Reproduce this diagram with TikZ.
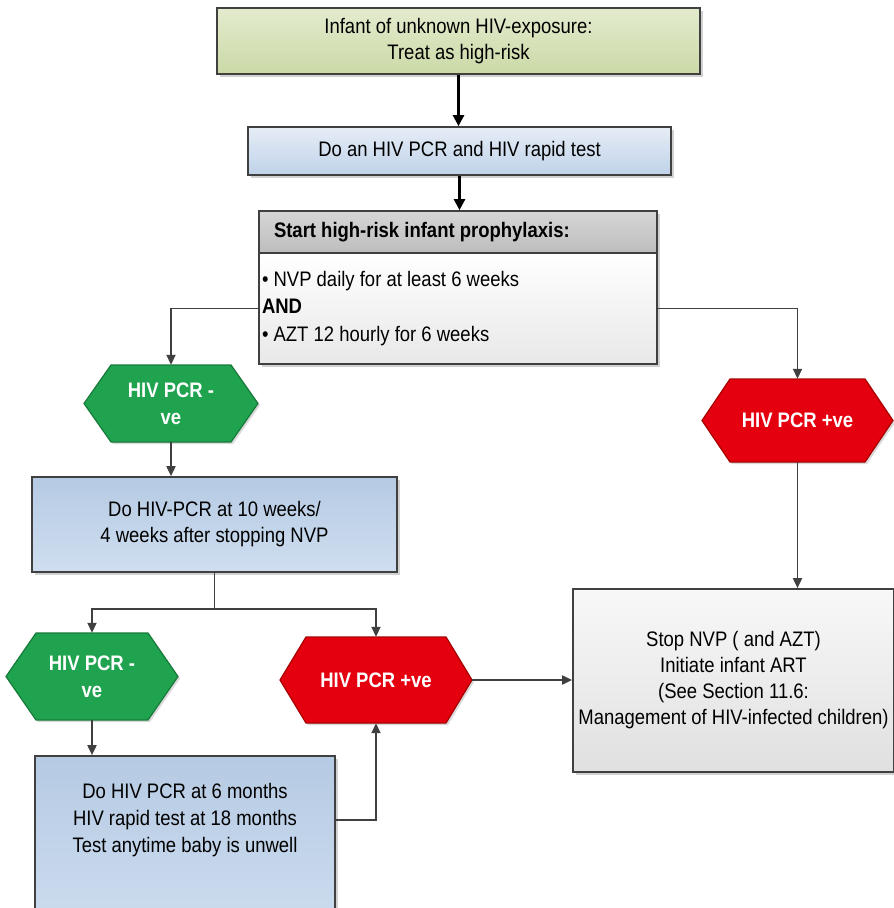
\documentclass[tikz,border=0pt]{standalone}
\usepackage{fontspec}
\setmainfont{Liberation Sans}[FakeStretch=0.88]
\usetikzlibrary{arrows.meta,shadows,calc}
\definecolor{edge}{HTML}{404040}
\definecolor{hexgreen}{HTML}{1FA34F}
\definecolor{hexgreenedge}{HTML}{177A3B}
\definecolor{hexred}{HTML}{E4000F}
\definecolor{hexrededge}{HTML}{A80000}
\definecolor{cA}{HTML}{E3EBCE}\definecolor{cB}{HTML}{CBD9A6}
\definecolor{cC}{HTML}{E6EDF6}\definecolor{cD}{HTML}{BFD2E9}
\definecolor{cE}{HTML}{B5CAE3}\definecolor{cF}{HTML}{CFDEF0}
\definecolor{cG}{HTML}{D6D6D6}\definecolor{cH}{HTML}{BDBDBD}
\definecolor{cI}{HTML}{E8E8E8}
\definecolor{cJ}{HTML}{F8F8F8}\definecolor{cK}{HTML}{E0E0E0}
\tikzset{
  txt/.style={font=\fontsize{21}{26}\selectfont, align=center, text=black},
  basebox/.style={draw=edge, line width=1.7pt, inner sep=0pt, txt,
    drop shadow={shadow xshift=2.5pt, shadow yshift=-2.5pt, fill=black, opacity=0.18}},
  oliveBox/.style={basebox, top color=cA, bottom color=cB},
  paleBlue/.style={basebox, top color=cC, bottom color=cD},
  blueBox/.style={basebox, top color=cE, bottom color=cF},
  headBox/.style={basebox, top color=cG, bottom color=cH},
  bodyBox/.style={basebox, top color=white, bottom color=cI},
  greyBox/.style={basebox, top color=cJ, bottom color=cK},
  greenhex/.style={fill=hexgreen, draw=hexgreenedge, line width=1.2pt,
    drop shadow={shadow xshift=2pt, shadow yshift=-2pt, fill=black, opacity=0.15}},
  redhex/.style={fill=hexred, draw=hexrededge, line width=1.2pt,
    drop shadow={shadow xshift=2pt, shadow yshift=-2pt, fill=black, opacity=0.15}},
  hextext/.style={inner sep=0pt, align=center, text=white,
    font=\fontsize{21}{27}\selectfont\bfseries},
  mainarr/.style={draw=black, line width=2.4pt, -{Triangle[length=11pt,width=11pt]}},
  arr/.style={draw=edge, line width=1.8pt, -{Triangle[length=10pt,width=9pt]}},
  plain/.style={draw=edge, line width=1.8pt}
}
\newcommand\hexshape[7]{%
  \path[#7] ({#2-#4},#3) -- ({#2-#4+#6},{#3-#5}) -- ({#2+#4-#6},{#3-#5}) --
    ({#2+#4},#3) -- ({#2+#4-#6},{#3+#5}) -- ({#2-#4+#6},{#3+#5}) -- cycle;
  \node[hextext, minimum width={2*#4}, minimum height={2*#5}] (#1) at (#2,#3)}
\begin{document}
\begin{tikzpicture}[x=1pt,y=-1pt]
\useasboundingbox[fill=white] (0,0) rectangle (894,908);

\node[oliveBox, minimum width=483, minimum height=66] (b1) at (458.5,41)
  {Infant of unknown HIV-exposure:\\Treat as high-risk};
\node[paleBlue, minimum width=423, minimum height=48] (b2) at (459.5,151)
  {Do an HIV PCR and HIV rapid test};
\node[headBox, minimum width=398, minimum height=42, text width=368,
  inner xsep=15pt, align=flush left, font=\fontsize{21}{26}\selectfont\bfseries] (b3h) at (458,232)
  {Start high-risk infant prophylaxis:};
\node[bodyBox, minimum width=398, minimum height=111, text width=392,
  inner xsep=3pt, align=flush left, font=\fontsize{21}{27.5}\selectfont] (b3b) at (458,308.5)
  {• NVP daily for at least 6 weeks\\\textbf{AND}\\• AZT 12 hourly for 6 weeks};

\hexshape{h1}{171}{403.5}{87}{38.5}{27}{greenhex} {HIV PCR -\\ve};
\hexshape{hR}{797.5}{420.5}{95.5}{41.5}{28}{redhex} {HIV PCR +ve};

\node[blueBox, minimum width=365, minimum height=95] (b4) at (214.5,524.5)
  {Do HIV-PCR at 10 weeks/\\4 weeks after stopping NVP};

\hexshape{h2}{92}{676.5}{86}{43.5}{30}{greenhex} {HIV PCR -\\ve};
\hexshape{h3}{376}{680}{96}{43}{26}{redhex} {HIV PCR +ve};

\node[blueBox, minimum width=300, minimum height=184] (b5) at (185,848) {};
\node[txt, inner sep=0pt, font=\fontsize{21}{27}\selectfont] (b5t) at (185,820)
  {Do HIV PCR at 6 months\\HIV rapid test at 18 months\\Test anytime baby is unwell};

\node[greyBox, minimum width=321, minimum height=183] (b6) at (733.5,680.5)
  {Stop NVP ( and AZT)\\Initiate infant ART\\(See Section 11.6:\\Management of HIV-infected children)};

\coordinate (sp) at (214.5,609);

\draw[mainarr] (b1.south) -- (b1.south |- b2.north);
\draw[mainarr] (b2.south) -- (b2.south |- b3h.north);
\draw[arr] (b3b.west) -| (h1.north);
\draw[arr] (b3b.east) -| (hR.north);
\draw[arr] (h1.south) -- (h1.south |- b4.north);
\draw[plain] (b4.south) -- (sp);
\draw[arr] (sp) -| (h2.north);
\draw[arr] (sp) -| (h3.north);
\draw[arr] (h2.south) -- (h2.south |- b5.north);
\draw[arr] (b5t -| b5.east) -| (h3.south);
\draw[arr] (h3.east) -- (h3.east -| b6.west);
\draw[arr] (hR.south) -- (hR.south |- b6.north);
\end{tikzpicture}
\end{document}
